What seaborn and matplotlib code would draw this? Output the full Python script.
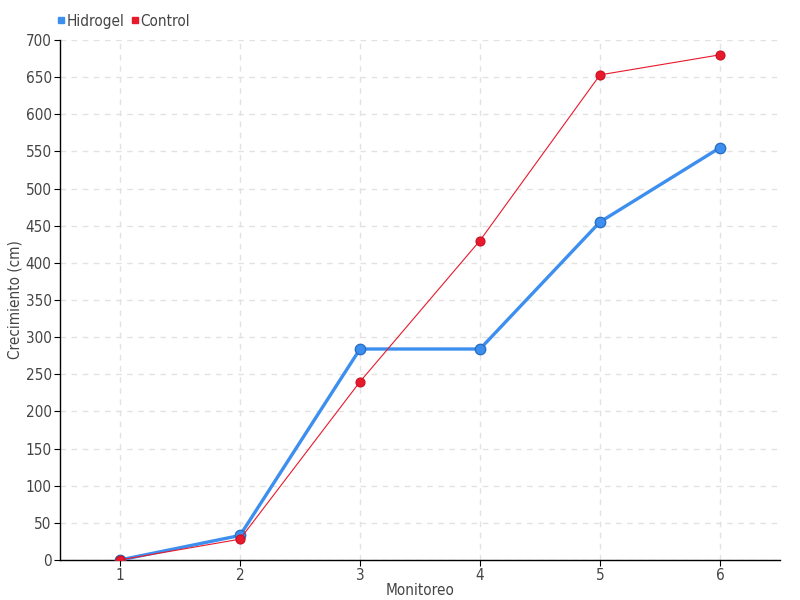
import pandas as pd
import matplotlib.pyplot as plt
import seaborn as sns
from matplotlib.lines import Line2D

# Datos
monitoreo = [1, 2, 3, 4, 5, 6]
hidrogel = [0, 33, 284, 284, 455, 555]
control = [0, 28, 240, 430, 653, 680]
yticks = list(range(0, 701, 50))

df = pd.DataFrame({
    'Monitoreo': monitoreo * 2,
    'Crecimiento': hidrogel + control,
    'Serie': ['Hidrogel'] * 6 + ['Control'] * 6,
})

sns.set_style('white')
plt.rcParams['font.family'] = ['DejaVu Sans']
plt.rcParams['font.stretch'] = 'condensed'

azul = '#3d8fef'
rojo = '#e8192c'
gris = '#444444'

fig = plt.figure(figsize=(8, 6), dpi=100)
ax = fig.add_axes([0.075, 0.0667, 0.9, 0.8667])

sns.lineplot(data=df[df['Serie'] == 'Hidrogel'], x='Monitoreo', y='Crecimiento',
             color=azul, linewidth=2.4, marker='o', markersize=7.5,
             markeredgecolor='#2a6fc4', markeredgewidth=1, ax=ax, zorder=3)
sns.lineplot(data=df[df['Serie'] == 'Control'], x='Monitoreo', y='Crecimiento',
             color=rojo, linewidth=0.8, marker='o', markersize=6.5,
             markeredgecolor='#c81020', markeredgewidth=0.8, ax=ax, zorder=4)

ax.set_xlim(0.5, 6.5)
ax.set_ylim(0, 700)
ax.set_xticks(monitoreo)
ax.set_yticks(yticks)
ax.grid(True, color='#e2e2e2', linestyle=(0, (4, 4)), linewidth=1)
ax.set_axisbelow(True)
for s in ['top', 'right']:
    ax.spines[s].set_visible(False)
for s in ['left', 'bottom']:
    ax.spines[s].set_color('black')
    ax.spines[s].set_linewidth(1)
ax.tick_params(axis='both', labelcolor=gris, color='black', labelsize=11,
               length=4, pad=2, direction='out', left=True, bottom=True)
ax.set_xlabel('Monitoreo', fontsize=11, color=gris, labelpad=0)
ax.set_ylabel('Crecimiento (cm)', fontsize=11, color=gris, labelpad=2)

handles = [Line2D([], [], linestyle='none', marker='s', color=azul, markersize=5),
           Line2D([], [], linestyle='none', marker='s', color=rojo, markersize=5)]
fig.legend(handles, ['Hidrogel', 'Control'], loc='upper left',
           bbox_to_anchor=(0.052, 1.0), ncol=2, frameon=False, fontsize=11,
           handletextpad=0.05, columnspacing=0.3, handlelength=0.7,
           labelcolor=gris)

fig.savefig('out.png', dpi=100)
